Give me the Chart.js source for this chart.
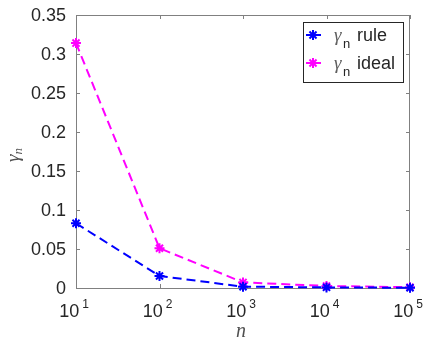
<!DOCTYPE html>
<html><head><meta charset="utf-8">
<script src="https://cdn.jsdelivr.net/npm/chart.js@4"></script>
<style>html,body{margin:0;padding:0;background:#fff;}canvas{display:block}</style>
</head><body>
<div style="width:427px;height:341px"><canvas id="c" width="427" height="341"></canvas></div>
<script>
// ---- data ----
const nValues = [10, 100, 1000, 10000, 100000];
const gammaRule = [0.083, 0.0154, 0.0017, 0.0008, 0.0003];
const gammaIdeal = [0.314, 0.051, 0.0072, 0.0026, 0.0010];
const xTickBases = ['10', '10', '10', '10', '10'];
const xTickExponents = ['1', '2', '3', '4', '5'];
const yTickValues = [0, 0.05, 0.1, 0.15, 0.2, 0.25, 0.3, 0.35];
const yTickLabels = ['0', '0.05', '0.1', '0.15', '0.2', '0.25', '0.3', '0.35'];
const seriesNames = ['rule', 'ideal'];
const seriesColors = ['#0000ff', '#ff00ff'];

const SANS = '"Liberation Sans", Arial, Helvetica, sans-serif';
const SERIF = '"Liberation Serif", "DejaVu Serif", serif';
const AXIS_COLOR = '#808080';
const TEXT_COLOR = '#262626';

function drawStar(ctx, x, y, r, color, lw) {
  ctx.save();
  ctx.strokeStyle = color; ctx.lineWidth = lw; ctx.setLineDash([]);
  ctx.beginPath();
  for (let k = 0; k < 4; k++) {
    const a = k * Math.PI / 4;
    ctx.moveTo(x - r * Math.cos(a), y - r * Math.sin(a));
    ctx.lineTo(x + r * Math.cos(a), y + r * Math.sin(a));
  }
  ctx.stroke();
  ctx.restore();
}

const decorPlugin = {
  id: 'decor',
  beforeDatasetsDraw(chart) {
    const ctx = chart.ctx, a = chart.chartArea;
    const xs = chart.scales.x, ys = chart.scales.y;
    ctx.save();
    ctx.strokeStyle = AXIS_COLOR; ctx.lineWidth = 1;
    ctx.strokeRect(a.left + 0.5, a.top + 0.5, a.right - a.left - 1, a.bottom - a.top);
    const tl = 4;
    ctx.beginPath();
    yTickValues.forEach(v => {
      const y = Math.round(ys.getPixelForValue(v)) + 0.5;
      ctx.moveTo(a.left, y); ctx.lineTo(a.left + tl, y);
      ctx.moveTo(a.right, y); ctx.lineTo(a.right - tl, y);
    });
    nValues.forEach(v => {
      const x = Math.round(xs.getPixelForValue(v)) + 0.5;
      ctx.moveTo(x, a.bottom); ctx.lineTo(x, a.bottom - tl);
      ctx.moveTo(x, a.top); ctx.lineTo(x, a.top + tl);
    });
    ctx.stroke();
    ctx.restore();
  },
  afterDraw(chart) {
    const ctx = chart.ctx, a = chart.chartArea;
    const xs = chart.scales.x, ys = chart.scales.y;
    ctx.save();
    ctx.fillStyle = TEXT_COLOR;
    // y tick labels
    ctx.font = '18px ' + SANS;
    ctx.textAlign = 'right'; ctx.textBaseline = 'middle';
    yTickValues.forEach((v, i) => {
      ctx.fillText(yTickLabels[i], a.left - 10, ys.getPixelForValue(v) + 1);
    });
    // x tick labels with superscripts
    ctx.textAlign = 'left'; ctx.textBaseline = 'alphabetic';
    nValues.forEach((v, i) => {
      const x = xs.getPixelForValue(v);
      ctx.font = '18px ' + SANS;
      const w1 = ctx.measureText(xTickBases[i]).width;
      ctx.font = '12px ' + SANS;
      const w2 = ctx.measureText(xTickExponents[i]).width;
      const gap = 3;
      const start = x - 2 - (w1 + gap + w2) / 2;
      ctx.font = '18px ' + SANS;
      ctx.fillText(xTickBases[i], start, a.bottom + 29);
      ctx.font = '12px ' + SANS;
      ctx.fillText(xTickExponents[i], start + w1 + gap, a.bottom + 20);
    });
    // axis titles
    ctx.fillStyle = '#505050';
    ctx.font = 'italic 20px ' + SERIF;
    ctx.textAlign = 'center';
    ctx.fillText('n', (a.left + a.right) / 2 - 2, 337);
    ctx.save();
    ctx.translate(19, 153);
    ctx.rotate(-Math.PI / 2);
    ctx.textAlign = 'left';
    ctx.font = 'italic 19px ' + SERIF;
    const gw = ctx.measureText('γ').width;
    ctx.fillText('γ', -9, 0);
    ctx.font = 'italic 13px ' + SERIF;
    ctx.fillText('n', -9 + gw, 3);
    ctx.restore();
    // legend
    const lx = 303, ly = 22, lw = 100, lh = 60;
    ctx.fillStyle = '#fff';
    ctx.fillRect(lx, ly, lw, lh);
    ctx.strokeStyle = '#262626'; ctx.lineWidth = 1;
    ctx.strokeRect(lx + 0.5, ly + 0.5, lw, lh);
    const rows = [35, 63];
    rows.forEach((yy, i) => {
      ctx.save();
      ctx.strokeStyle = seriesColors[i]; ctx.lineWidth = 2;
      ctx.beginPath(); ctx.moveTo(306, yy); ctx.lineTo(321, yy); ctx.stroke();
      ctx.restore();
      drawStar(ctx, 313, yy, 5, seriesColors[i], 2);
      ctx.textAlign = 'left'; ctx.textBaseline = 'alphabetic';
      ctx.fillStyle = '#606060';
      ctx.font = 'italic 19px ' + SERIF;
      ctx.fillText('γ', 334, yy + 6);
      ctx.fillStyle = TEXT_COLOR;
      ctx.font = '13px ' + SANS;
      ctx.fillText('n', 343, yy + 13);
      ctx.font = '18px ' + SANS;
      ctx.fillText(seriesNames[i], 357, yy + 6);
    });
    ctx.restore();
  }
};

const mkData = ys => nValues.map((n, i) => ({ x: n, y: ys[i] }));

new Chart(document.getElementById('c'), {
  type: 'line',
  data: {
    datasets: [
      { label: 'γn rule', data: mkData(gammaRule), borderColor: seriesColors[0], backgroundColor: seriesColors[0],
        borderWidth: 2, borderDash: [9, 5], pointStyle: 'star', pointRadius: 5, pointBorderWidth: 2,
        pointBorderColor: seriesColors[0], fill: false, tension: 0, clip: false },
      { label: 'γn ideal', data: mkData(gammaIdeal), borderColor: seriesColors[1], backgroundColor: seriesColors[1],
        borderWidth: 2, borderDash: [9, 5], pointStyle: 'star', pointRadius: 5, pointBorderWidth: 2,
        pointBorderColor: seriesColors[1], fill: false, tension: 0, clip: false }
    ]
  },
  options: {
    responsive: false, animation: false, devicePixelRatio: 1,
    layout: { autoPadding: false, padding: { left: 76, right: 17, top: 15, bottom: 53 } },
    plugins: { legend: { display: false }, tooltip: { enabled: false } },
    scales: {
      x: { type: 'logarithmic', min: 10, max: 100000,
        afterBuildTicks: s => { s.ticks = nValues.map(v => ({ value: v })); },
        afterFit: s => { s.height = 0; },
        ticks: { display: false }, grid: { display: false }, border: { display: false } },
      y: { type: 'linear', min: 0, max: 0.35,
        afterBuildTicks: s => { s.ticks = yTickValues.map(v => ({ value: v })); },
        afterFit: s => { s.width = 0; },
        ticks: { display: false }, grid: { display: false }, border: { display: false } }
    }
  },
  plugins: [decorPlugin]
});
</script>
</body></html>
